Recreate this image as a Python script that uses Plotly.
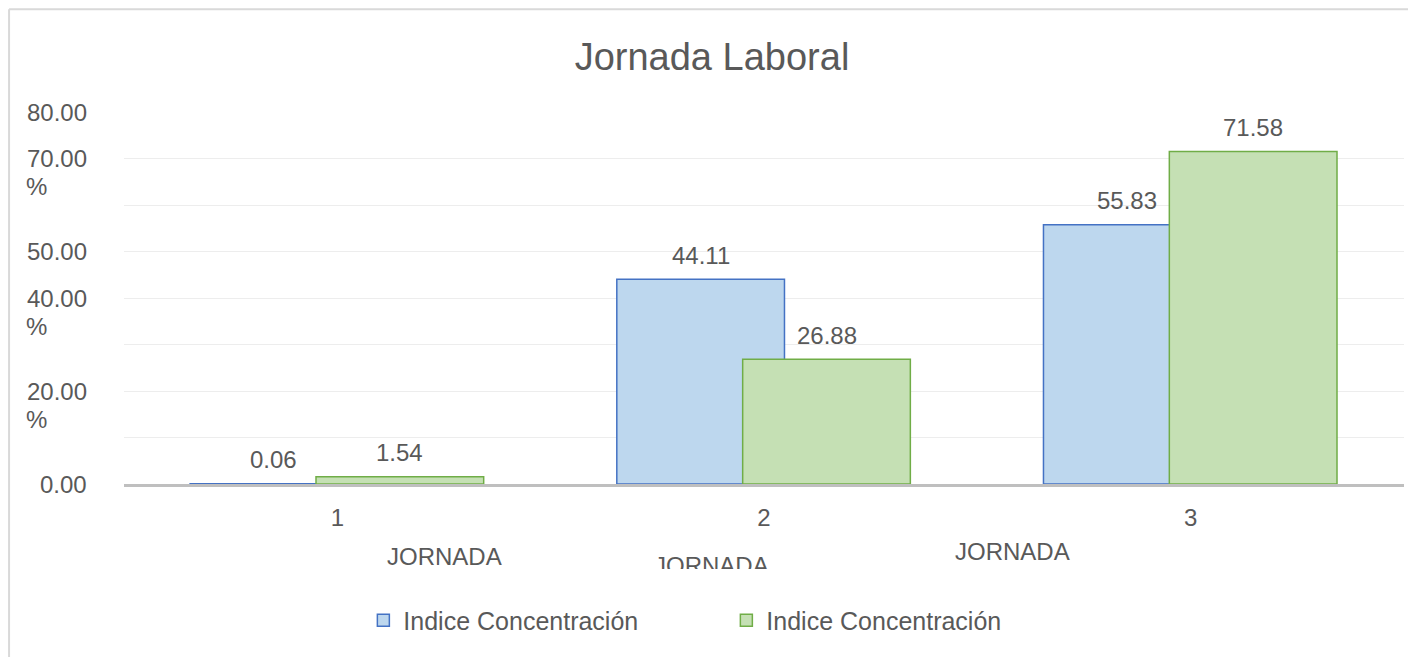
import plotly.graph_objects as go

# data
categories = [1, 2, 3]
serie_a = [0.06, 44.11, 55.83]
serie_b = [1.54, 26.88, 71.58]
series_names = ["Indice Concentración", "Indice Concentración"]
y_ticks = [0, 10, 20, 30, 40, 50, 60, 70, 80]
y_tick_text = ["0.00", "", "20.00", "", "40.00", "50.00", "", "70.00", "80.00"]
y_tick_pct = [False, False, True, False, True, False, False, True, False]
axis_notes = ["JORNADA", "JORNADA", "JORNADA"]

FONT = "Liberation Sans, Arial, sans-serif"
GREY = "#595959"
FS = 24
BAR_W = 0.393
OFFS = [-0.345, -0.05]
FILLS = ["#BDD7EE", "#C5E0B4"]
LINES = ["#4472C4", "#70AD47"]


def main():
    fig = go.Figure()
    for i, vals in enumerate([serie_a, serie_b]):
        fig.add_trace(go.Bar(
            x=categories, y=vals, name=series_names[i],
            width=BAR_W, offset=OFFS[i],
            marker=dict(color=FILLS[i], line=dict(color=LINES[i], width=1.5)),
        ))
        # value labels above each bar
        for c, v in zip(categories, vals):
            fig.add_annotation(
                x=c + OFFS[i] + BAR_W / 2, y=v, xref="x", yref="y",
                text=f"{v:.2f}", showarrow=False, xanchor="center", yanchor="middle", yshift=24,
                font=dict(family=FONT, size=FS, color=GREY),
            )

    # y tick labels (Excel wrapped the "%" onto a second line for some of them)
    for t, lab, pct in zip(y_ticks, y_tick_text, y_tick_pct):
        if not lab:
            continue
        fig.add_annotation(
            x=-0.027, y=t, xref="paper", yref="y", text=lab, showarrow=False,
            xanchor="right", yanchor="middle",
            font=dict(family=FONT, size=FS, color=GREY),
        )
        if pct:
            fig.add_annotation(
                x=-0.078, y=t, xref="paper", yref="y", text="%", showarrow=False,
                xanchor="left", yanchor="middle", yshift=-28,
                font=dict(family=FONT, size=FS, color=GREY),
            )

    # the stray "JORNADA" labels under the axis (middle one cut off)
    fig.add_annotation(x=0.25, y=-0.195, xref="paper", yref="paper", text=axis_notes[0],
                       showarrow=False, xanchor="center", yanchor="middle",
                       font=dict(family=FONT, size=FS, color=GREY))
    fig.add_annotation(x=0.459, y=-0.1763, xref="paper", yref="paper", text=axis_notes[1],
                       showarrow=False, xanchor="center", yanchor="top", valign="top", height=17,
                       font=dict(family=FONT, size=FS, color=GREY))
    fig.add_annotation(x=0.6945, y=-0.1817, xref="paper", yref="paper", text=axis_notes[2],
                       showarrow=False, xanchor="center", yanchor="middle",
                       font=dict(family=FONT, size=FS, color=GREY))

    # chart frame
    fig.add_shape(type="line", xref="paper", yref="paper", x0=-0.0898, x1=1.2,
                  y0=1.276, y1=1.276, line=dict(color="#D9D9D9", width=2))
    fig.add_shape(type="line", xref="paper", yref="paper", x0=-0.0898, x1=-0.0898,
                  y0=1.276, y1=-0.6, line=dict(color="#D9D9D9", width=2))

    fig.update_layout(
        width=1408, height=649,
        margin=dict(l=116, r=12, t=103.7, b=172.7),
        barmode="overlay",
        plot_bgcolor="white", paper_bgcolor="white",
        font=dict(family=FONT, size=FS, color=GREY),
        title=dict(text="Jornada Laboral", x=0.5, xanchor="center", xref="container",
                   y=1 - 49 / 649, yref="container", yanchor="middle",
                   font=dict(family=FONT, size=38, color=GREY)),
        legend=dict(orientation="h", x=0.187, xanchor="left", y=-0.367, yanchor="middle",
                    entrywidth=318, font=dict(family=FONT, size=25, color=GREY)),
        showlegend=True,
    )
    fig.update_xaxes(range=[0.5, 3.5], tickvals=categories, ticktext=[str(c) for c in categories],
                     showgrid=False, showline=True, linecolor="#BFBFBF", linewidth=2.5,
                     ticks="", ticklabelstandoff=10, zeroline=False)
    fig.update_yaxes(range=[0, 80.1], tickvals=y_ticks, showticklabels=False,
                     showgrid=True, gridcolor="#EDEDED", gridwidth=1, zeroline=False)
    fig.write_html("out.html")


if __name__ == "__main__":
    main()
